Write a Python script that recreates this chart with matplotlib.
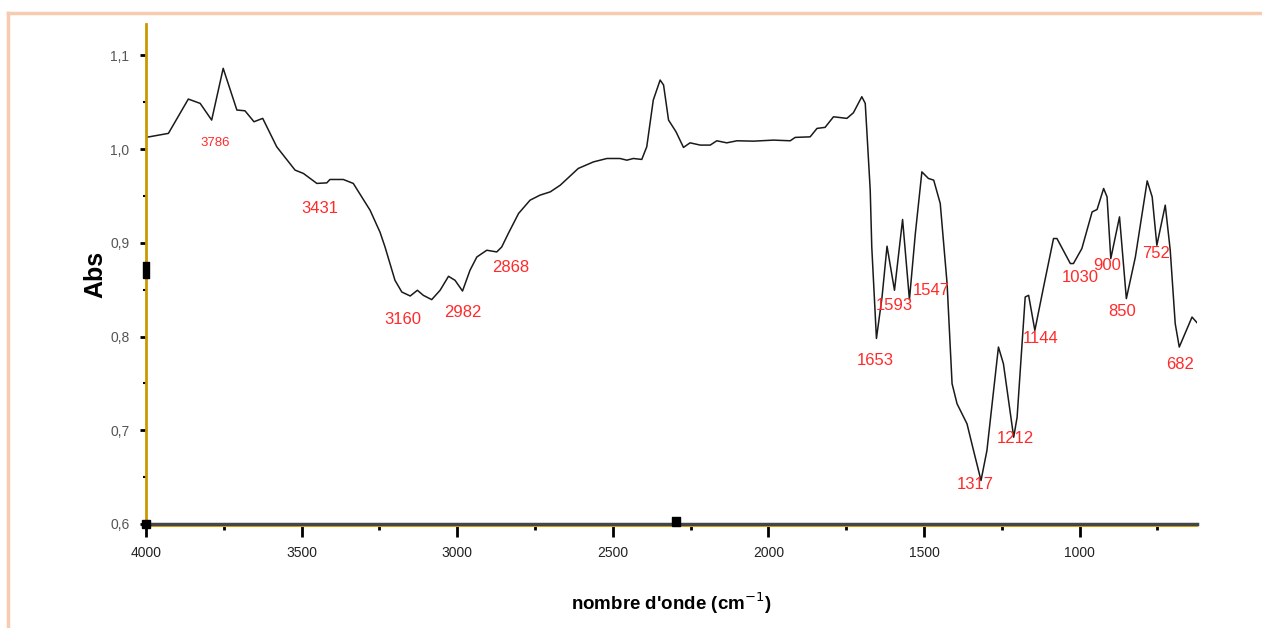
import matplotlib.pyplot as plt
import matplotlib.transforms as mtransforms
from matplotlib.ticker import MultipleLocator, FuncFormatter
from matplotlib.lines import Line2D

# FTIR spectrum (wavenumber in cm-1, absorbance)
wavenumber = [4000, 3928, 3864, 3826, 3789, 3752, 3708, 3682, 3653, 3625,
              3580, 3559, 3521, 3494, 3451, 3419, 3409, 3366, 3334, 3280,
              3248, 3232, 3200, 3178, 3151, 3128, 3109, 3082, 3055, 3028,
              3007, 2983, 2959, 2937, 2905, 2873, 2857, 2836, 2803, 2766,
              2734, 2701, 2669, 2611, 2562, 2519, 2477, 2455, 2434, 2407,
              2391, 2370, 2348, 2337, 2321, 2297, 2273, 2252, 2219, 2187,
              2166, 2134, 2101, 2048, 1984, 1930, 1914, 1866, 1844, 1818,
              1791, 1748, 1727, 1700, 1689, 1684, 1673, 1668, 1653, 1635,
              1619, 1595, 1569, 1547, 1528, 1507, 1486, 1469, 1448, 1426,
              1410, 1394, 1362, 1341, 1317, 1298, 1261, 1245, 1212, 1201,
              1175, 1164, 1144, 1116, 1084, 1073, 1030, 1020, 993, 960,
              944, 923, 912, 900, 872, 850, 821, 783, 767, 752,
              725, 709, 693, 680, 639, 623]
absorbance = [1.0125, 1.0168, 1.0534, 1.0488, 1.031, 1.0862, 1.0417, 1.0409, 1.0292, 1.0328,
              1.0025, 0.9936, 0.9776, 0.974, 0.9634, 0.964, 0.9676, 0.9676, 0.9634, 0.9348,
              0.9113, 0.8956, 0.86, 0.8475, 0.8433, 0.8494, 0.844, 0.8394, 0.8494, 0.8643,
              0.86, 0.8486, 0.8707, 0.8849, 0.8921, 0.8903, 0.8956, 0.9099, 0.9313, 0.9455,
              0.9509, 0.9544, 0.9615, 0.9794, 0.9864, 0.99, 0.99, 0.9882, 0.99, 0.989,
              1.0025, 1.0524, 1.0737, 1.0684, 1.031, 1.0185, 1.0018, 1.0067, 1.0043, 1.0043,
              1.0089, 1.0067, 1.0089, 1.0085, 1.0096, 1.0089, 1.0125, 1.0131, 1.0221, 1.0232,
              1.0345, 1.0328, 1.0388, 1.0559, 1.0488, 1.0203, 0.9562, 0.8956, 0.798, 0.8422,
              0.8964, 0.8494, 0.9249, 0.8394, 0.9099, 0.9757, 0.9687, 0.9669, 0.942, 0.8565,
              0.7497, 0.7283, 0.7069, 0.6784, 0.6464, 0.6784, 0.7888, 0.771, 0.6926, 0.714,
              0.8422, 0.844, 0.8066, 0.8529, 0.9046, 0.9046, 0.8779, 0.8779, 0.8939, 0.933,
              0.9356, 0.958, 0.949, 0.8832, 0.9277, 0.8405, 0.8849, 0.9661, 0.949, 0.8974,
              0.9402, 0.8921, 0.8138, 0.7888, 0.8208, 0.8148]

# peak labels and where they sit
peak_labels = ['3786', '3431', '3160', '2982', '2868', '1653', '1593', '1547',
               '1317', '1212', '1144', '1030', '900', '850', '752', '682']
label_x = [3778, 3441, 3174, 2981, 2827, 1656, 1596, 1476,
           1335, 1208, 1126, 998, 912, 864, 756, 677]
label_y = [1.0064, 0.937, 0.818, 0.8254, 0.8735, 0.7746, 0.8334, 0.849,
           0.642, 0.691, 0.798, 0.8635, 0.8763, 0.8263, 0.8885, 0.7697]
small_labels = ['3786']

# cursor markers of the original software
cursor_x = [4000, 2297]
cursor_y = [0.8707, 0.6]

plt.rcParams['font.family'] = ['Liberation Sans Narrow', 'Liberation Sans', 'DejaVu Sans']

fig = plt.figure(figsize=(12.62, 6.28), dpi=100)
ax = fig.add_axes([146 / 1262, 1 - 524 / 628, (1197 - 146) / 1262, 500 / 628])

ax.plot(wavenumber, absorbance, color='#1a1a1a', lw=1.1)

for lab, x, y in zip(peak_labels, label_x, label_y):
    fs = 9.5 if lab in small_labels else 12
    ax.text(x, y, lab, color='#ff2a2a', fontsize=fs, ha='center', va='center')

ax.set_xlim(4000, 623)
ax.set_ylim(0.6, 1.1335)

ax.xaxis.set_major_locator(MultipleLocator(500))
ax.xaxis.set_minor_locator(MultipleLocator(250))
ax.yaxis.set_major_locator(MultipleLocator(0.1))
ax.yaxis.set_minor_locator(MultipleLocator(0.05))
ax.yaxis.set_major_formatter(FuncFormatter(lambda v, p: f'{v:.1f}'.replace('.', ',')))

ax.tick_params(axis='x', which='major', direction='out', length=9, width=2,
               pad=7, labelsize=10, labelcolor='#222222')
ax.tick_params(axis='x', which='minor', direction='out', length=4, width=2)
ax.tick_params(axis='y', which='major', direction='out', length=4, width=2,
               pad=8, labelsize=10, labelcolor='#555555')
ax.tick_params(axis='y', which='minor', direction='out', length=2, width=1.5)

for s in ['top', 'right']:
    ax.spines[s].set_visible(False)
ax.spines['left'].set_color('#c99a00')
ax.spines['left'].set_linewidth(2)
ax.spines['bottom'].set_color('#454545')
ax.spines['bottom'].set_linewidth(2.5)

# yellow edge under the bottom axis line
shift = mtransforms.ScaledTranslation(0, -2 / 100, fig.dpi_scale_trans)
ax.add_line(Line2D([0, 1], [0, 0], transform=ax.transAxes + shift,
                   color='#f2b600', lw=1.5, clip_on=False))

tall_box = [(-1, -2.6), (1, -2.6), (1, 2.6), (-1, 2.6), (-1, -2.6)]
ax.plot(cursor_x[0], cursor_y[0], marker=tall_box, markersize=12, color='black',
        clip_on=False, zorder=5)
ax.plot(cursor_x[1], cursor_y[1], marker=[(-1.3, -0.6), (1.3, -0.6), (1.3, 2.2), (-1.3, 2.2), (-1.3, -0.6)],
        markersize=10, color='black', clip_on=False, zorder=5)
ax.plot(4000, 0.6, marker='s', markersize=6, color='black', clip_on=False, zorder=5)

ax.set_ylabel('Abs', fontsize=18, fontweight='bold', family=['Liberation Sans', 'DejaVu Sans'],
              labelpad=2)
ax.set_xlabel("nombre d'onde (cm$^{-1}$)", fontsize=13.5, fontweight='bold', labelpad=22)

# peach frame around the picture
fig.add_artist(Line2D([8 / 1262, 1], [1 - 13 / 628, 1 - 13 / 628],
                      transform=fig.transFigure, color='#f7cbb0', lw=2.5))
fig.add_artist(Line2D([8 / 1262, 8 / 1262], [0, 1 - 13 / 628],
                      transform=fig.transFigure, color='#f7cbb0', lw=2.5))

fig.savefig('out.png', dpi=100)
